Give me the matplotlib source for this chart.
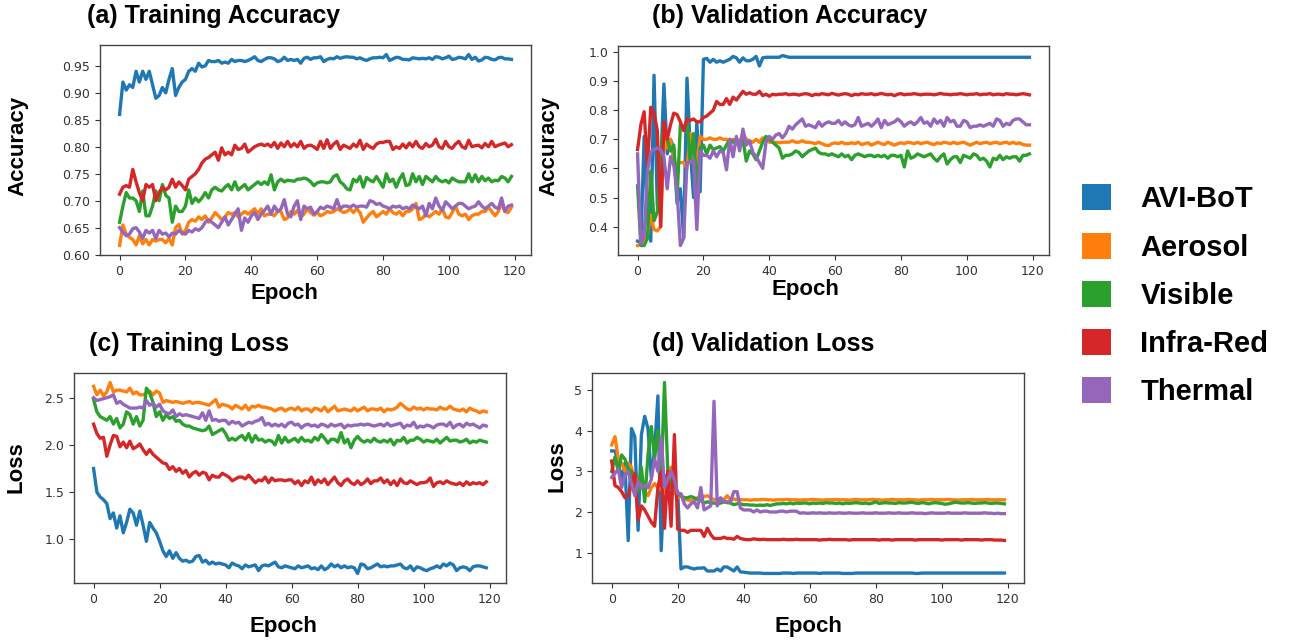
import numpy as np
import matplotlib
matplotlib.use("Agg")
import matplotlib.pyplot as plt
from matplotlib.patches import Patch
from matplotlib.font_manager import FontProperties

epochs = np.arange(120)
models = ["AVI-BoT", "Aerosol", "Visible", "Infra-Red", "Thermal"]
colors = ["#1f77b4", "#ff7f0e", "#2ca02c", "#d62728", "#9467bd"]

# (a) training accuracy
train_acc_avibot = [
    0.860, 0.920, 0.905, 0.915, 0.910, 0.940, 0.920, 0.940, 0.925, 0.940,
    0.915, 0.890, 0.895, 0.910, 0.900, 0.925, 0.945, 0.895, 0.910, 0.920,
    0.925, 0.940, 0.945, 0.940, 0.955, 0.948, 0.950, 0.960, 0.958, 0.958,
    0.960, 0.955, 0.957, 0.955, 0.962, 0.958, 0.960, 0.960, 0.958, 0.960,
    0.963, 0.967, 0.960, 0.958, 0.962, 0.965, 0.965, 0.963, 0.958, 0.960,
    0.966, 0.960, 0.962, 0.960, 0.962, 0.955, 0.964, 0.966, 0.962, 0.965,
    0.965, 0.967, 0.958, 0.962, 0.964, 0.963, 0.967, 0.964, 0.966, 0.967,
    0.966, 0.966, 0.963, 0.965, 0.962, 0.960, 0.963, 0.965, 0.965, 0.966,
    0.965, 0.971, 0.960, 0.963, 0.966, 0.965, 0.962, 0.962, 0.961, 0.965,
    0.964, 0.963, 0.964, 0.963, 0.965, 0.962, 0.967, 0.966, 0.963, 0.965,
    0.968, 0.962, 0.963, 0.966, 0.965, 0.963, 0.971, 0.962, 0.966, 0.959,
    0.961, 0.966, 0.965, 0.962, 0.961, 0.965, 0.966, 0.963, 0.963, 0.962]
train_acc_aerosol = [
    0.617, 0.655, 0.638, 0.632, 0.628, 0.618, 0.635, 0.620, 0.628, 0.618,
    0.628, 0.625, 0.628, 0.628, 0.622, 0.630, 0.618, 0.650, 0.656, 0.638,
    0.645, 0.660, 0.665, 0.662, 0.670, 0.665, 0.672, 0.660, 0.668, 0.678,
    0.672, 0.665, 0.670, 0.678, 0.675, 0.678, 0.670, 0.675, 0.680, 0.675,
    0.680, 0.685, 0.675, 0.685, 0.672, 0.675, 0.675, 0.672, 0.680, 0.680,
    0.665, 0.668, 0.680, 0.675, 0.682, 0.670, 0.675, 0.685, 0.678, 0.673,
    0.678, 0.672, 0.675, 0.680, 0.678, 0.680, 0.685, 0.682, 0.678, 0.680,
    0.685, 0.678, 0.685, 0.678, 0.660, 0.668, 0.675, 0.680, 0.670, 0.675,
    0.680, 0.675, 0.685, 0.678, 0.675, 0.680, 0.672, 0.680, 0.680, 0.685,
    0.695, 0.665, 0.668, 0.675, 0.670, 0.675, 0.680, 0.675, 0.685, 0.670,
    0.668, 0.678, 0.690, 0.675, 0.672, 0.675, 0.665, 0.672, 0.675, 0.675,
    0.680, 0.680, 0.688, 0.680, 0.672, 0.680, 0.695, 0.680, 0.678, 0.688]
train_acc_visible = [
    0.660, 0.690, 0.715, 0.705, 0.705, 0.700, 0.680, 0.718, 0.672, 0.672,
    0.690, 0.718, 0.700, 0.730, 0.710, 0.705, 0.660, 0.690, 0.680, 0.680,
    0.690, 0.720, 0.695, 0.705, 0.698, 0.705, 0.715, 0.705, 0.720, 0.725,
    0.720, 0.718, 0.725, 0.730, 0.720, 0.735, 0.720, 0.725, 0.730, 0.720,
    0.725, 0.730, 0.735, 0.730, 0.735, 0.730, 0.748, 0.720, 0.735, 0.740,
    0.735, 0.738, 0.737, 0.736, 0.740, 0.740, 0.742, 0.740, 0.735, 0.728,
    0.733, 0.735, 0.735, 0.733, 0.735, 0.745, 0.748, 0.735, 0.730, 0.722,
    0.720, 0.740, 0.735, 0.745, 0.725, 0.743, 0.738, 0.735, 0.745, 0.735,
    0.725, 0.750, 0.735, 0.740, 0.725, 0.740, 0.750, 0.728, 0.730, 0.750,
    0.735, 0.745, 0.730, 0.745, 0.740, 0.735, 0.745, 0.738, 0.735, 0.738,
    0.733, 0.742, 0.738, 0.735, 0.735, 0.735, 0.750, 0.735, 0.748, 0.735,
    0.745, 0.737, 0.742, 0.735, 0.738, 0.737, 0.745, 0.742, 0.735, 0.745]
train_acc_infrared = [
    0.712, 0.725, 0.728, 0.725, 0.758, 0.735, 0.715, 0.700, 0.730, 0.725,
    0.730, 0.700, 0.715, 0.725, 0.720, 0.725, 0.740, 0.725, 0.735, 0.728,
    0.720, 0.740, 0.745, 0.750, 0.758, 0.770, 0.777, 0.780, 0.785, 0.790,
    0.775, 0.798, 0.785, 0.790, 0.785, 0.803, 0.795, 0.797, 0.805, 0.790,
    0.795, 0.800, 0.803, 0.805, 0.802, 0.805, 0.800, 0.808, 0.797, 0.807,
    0.800, 0.810, 0.800, 0.806, 0.800, 0.810, 0.797, 0.802, 0.803, 0.800,
    0.795, 0.810, 0.797, 0.813, 0.797, 0.805, 0.810, 0.795, 0.803, 0.800,
    0.797, 0.805, 0.800, 0.812, 0.795, 0.805, 0.800, 0.797, 0.805, 0.808,
    0.808, 0.810, 0.810, 0.795, 0.800, 0.797, 0.805, 0.798, 0.807, 0.800,
    0.810, 0.800, 0.797, 0.806, 0.800, 0.803, 0.814, 0.800, 0.797, 0.810,
    0.800, 0.797, 0.805, 0.810, 0.800, 0.797, 0.812, 0.800, 0.802, 0.803,
    0.798, 0.806, 0.800, 0.810, 0.800, 0.803, 0.805, 0.807, 0.800, 0.804]
train_acc_thermal = [
    0.650, 0.642, 0.635, 0.638, 0.648, 0.650, 0.642, 0.630, 0.645, 0.640,
    0.645, 0.630, 0.645, 0.638, 0.640, 0.633, 0.640, 0.638, 0.645, 0.640,
    0.638, 0.645, 0.642, 0.648, 0.645, 0.650, 0.660, 0.665, 0.660, 0.655,
    0.650, 0.660, 0.670, 0.655, 0.665, 0.675, 0.685, 0.645, 0.668, 0.660,
    0.672, 0.678, 0.665, 0.675, 0.682, 0.690, 0.675, 0.690, 0.680, 0.685,
    0.702, 0.675, 0.670, 0.690, 0.700, 0.665, 0.690, 0.685, 0.688, 0.675,
    0.680, 0.688, 0.685, 0.690, 0.688, 0.685, 0.702, 0.685, 0.690, 0.690,
    0.688, 0.692, 0.688, 0.690, 0.690, 0.688, 0.700, 0.698, 0.693, 0.695,
    0.690, 0.688, 0.685, 0.690, 0.688, 0.690, 0.685, 0.688, 0.685, 0.692,
    0.688, 0.685, 0.690, 0.672, 0.695, 0.685, 0.705, 0.690, 0.682, 0.698,
    0.692, 0.685, 0.690, 0.695, 0.695, 0.690, 0.685, 0.688, 0.690, 0.698,
    0.690, 0.685, 0.690, 0.695, 0.688, 0.685, 0.705, 0.680, 0.690, 0.692]

# (b) validation accuracy
val_acc_avibot = [
    0.350, 0.345, 0.710, 0.420, 0.350, 0.920, 0.470, 0.600, 0.890, 0.650,
    0.700, 0.670, 0.480, 0.530, 0.360, 0.910, 0.670, 0.500, 0.760, 0.520,
    0.975, 0.978, 0.965, 0.975, 0.965, 0.970, 0.965, 0.970, 0.975, 0.985,
    0.980, 0.965, 0.980, 0.970, 0.970, 0.975, 0.985, 0.952, 0.980, 0.982,
    0.982, 0.982, 0.982, 0.982, 0.988, 0.985, 0.982, 0.982, 0.982, 0.982,
    0.982, 0.982, 0.982, 0.982, 0.982, 0.982, 0.982, 0.982, 0.982, 0.982,
    0.982, 0.982, 0.982, 0.982, 0.982, 0.982, 0.982, 0.982, 0.982, 0.982,
    0.982, 0.982, 0.982, 0.982, 0.982, 0.982, 0.982, 0.982, 0.982, 0.982,
    0.982, 0.982, 0.982, 0.982, 0.982, 0.982, 0.982, 0.982, 0.982, 0.982,
    0.982, 0.982, 0.982, 0.982, 0.982, 0.982, 0.982, 0.982, 0.982, 0.982,
    0.982, 0.982, 0.982, 0.982, 0.982, 0.982, 0.982, 0.982, 0.982, 0.982,
    0.982, 0.982, 0.982, 0.982, 0.982, 0.982, 0.982, 0.982, 0.982, 0.982]
val_acc_aerosol = [
    0.335, 0.340, 0.360, 0.370, 0.440, 0.390, 0.385, 0.400, 0.710, 0.670,
    0.700, 0.620, 0.615, 0.620, 0.620, 0.600, 0.720, 0.670, 0.620, 0.710,
    0.700, 0.700, 0.705, 0.700, 0.700, 0.705, 0.700, 0.700, 0.690, 0.700,
    0.690, 0.690, 0.720, 0.700, 0.695, 0.690, 0.700, 0.690, 0.705, 0.700,
    0.690, 0.690, 0.690, 0.688, 0.690, 0.690, 0.690, 0.695, 0.690, 0.690,
    0.695, 0.690, 0.690, 0.688, 0.685, 0.690, 0.685, 0.680, 0.678, 0.685,
    0.688, 0.685, 0.690, 0.685, 0.685, 0.688, 0.685, 0.690, 0.682, 0.685,
    0.688, 0.680, 0.685, 0.690, 0.685, 0.682, 0.690, 0.685, 0.680, 0.685,
    0.688, 0.685, 0.690, 0.688, 0.685, 0.690, 0.685, 0.688, 0.690, 0.685,
    0.682, 0.688, 0.685, 0.690, 0.688, 0.685, 0.690, 0.685, 0.688, 0.690,
    0.685, 0.680, 0.685, 0.690, 0.685, 0.688, 0.690, 0.685, 0.688, 0.690,
    0.685, 0.688, 0.690, 0.685, 0.690, 0.685, 0.688, 0.682, 0.680, 0.680]
val_acc_visible = [
    0.540, 0.335, 0.335, 0.360, 0.590, 0.420, 0.450, 0.650, 0.750, 0.700,
    0.660, 0.680, 0.500, 0.750, 0.740, 0.760, 0.620, 0.720, 0.520, 0.670,
    0.680, 0.650, 0.680, 0.665, 0.670, 0.675, 0.660, 0.680, 0.700, 0.690,
    0.700, 0.690, 0.700, 0.625, 0.660, 0.650, 0.630, 0.660, 0.690, 0.710,
    0.700, 0.690, 0.680, 0.670, 0.635, 0.645, 0.645, 0.650, 0.660, 0.655,
    0.640, 0.650, 0.660, 0.665, 0.670, 0.655, 0.650, 0.650, 0.645, 0.650,
    0.645, 0.640, 0.650, 0.640, 0.645, 0.630, 0.645, 0.650, 0.645, 0.640,
    0.645, 0.645, 0.640, 0.645, 0.640, 0.645, 0.635, 0.645, 0.645, 0.640,
    0.645, 0.605, 0.660, 0.635, 0.640, 0.650, 0.645, 0.640, 0.645, 0.650,
    0.635, 0.625, 0.640, 0.650, 0.615, 0.630, 0.640, 0.640, 0.620, 0.645,
    0.640, 0.635, 0.650, 0.645, 0.630, 0.635, 0.625, 0.605, 0.635, 0.630,
    0.645, 0.630, 0.640, 0.635, 0.640, 0.640, 0.625, 0.645, 0.645, 0.650]
val_acc_infrared = [
    0.665, 0.750, 0.795, 0.600, 0.810, 0.790, 0.730, 0.400, 0.760, 0.700,
    0.750, 0.790, 0.785, 0.760, 0.730, 0.770, 0.765, 0.770, 0.760, 0.760,
    0.775, 0.780, 0.790, 0.800, 0.830, 0.820, 0.820, 0.840, 0.820, 0.845,
    0.835, 0.850, 0.865, 0.855, 0.860, 0.855, 0.855, 0.865, 0.850, 0.855,
    0.848, 0.855, 0.853, 0.855, 0.855, 0.857, 0.853, 0.855, 0.855, 0.852,
    0.855, 0.857, 0.855, 0.850, 0.855, 0.853, 0.857, 0.855, 0.853, 0.858,
    0.855, 0.852, 0.855, 0.857, 0.855, 0.850, 0.855, 0.853, 0.857, 0.855,
    0.855, 0.857, 0.853, 0.855, 0.858, 0.855, 0.853, 0.855, 0.850, 0.855,
    0.857, 0.853, 0.855, 0.855, 0.857, 0.855, 0.853, 0.855, 0.855, 0.855,
    0.853, 0.855, 0.858, 0.855, 0.855, 0.853, 0.855, 0.855, 0.857, 0.855,
    0.853, 0.855, 0.855, 0.857, 0.853, 0.855, 0.855, 0.857, 0.853, 0.855,
    0.855, 0.853, 0.857, 0.855, 0.855, 0.853, 0.855, 0.857, 0.855, 0.853]
val_acc_thermal = [
    0.650, 0.340, 0.370, 0.590, 0.655, 0.665, 0.670, 0.665, 0.640, 0.530,
    0.640, 0.610, 0.520, 0.335, 0.360, 0.620, 0.620, 0.630, 0.390, 0.660,
    0.645, 0.645, 0.635, 0.660, 0.640, 0.660, 0.655, 0.595, 0.700, 0.640,
    0.710, 0.660, 0.735, 0.680, 0.695, 0.655, 0.640, 0.620, 0.600, 0.690,
    0.710, 0.700, 0.715, 0.720, 0.705, 0.720, 0.745, 0.735, 0.750, 0.760,
    0.770, 0.745, 0.750, 0.745, 0.740, 0.760, 0.745, 0.755, 0.760, 0.755,
    0.755, 0.765, 0.750, 0.760, 0.750, 0.745, 0.750, 0.775, 0.745, 0.750,
    0.755, 0.745, 0.755, 0.770, 0.740, 0.765, 0.750, 0.755, 0.760, 0.770,
    0.760, 0.745, 0.755, 0.760, 0.750, 0.760, 0.775, 0.755, 0.760, 0.745,
    0.770, 0.755, 0.765, 0.745, 0.775, 0.760, 0.765, 0.745, 0.745, 0.765,
    0.760, 0.740, 0.745, 0.745, 0.750, 0.745, 0.750, 0.755, 0.745, 0.770,
    0.765, 0.745, 0.755, 0.750, 0.765, 0.770, 0.770, 0.760, 0.750, 0.750]

# (c) training loss
train_loss_avibot = [
    1.75, 1.50, 1.45, 1.42, 1.38, 1.22, 1.28, 1.12, 1.25, 1.07,
    1.18, 1.32, 1.28, 1.15, 1.30, 1.15, 0.98, 1.18, 1.12, 1.07,
    0.98, 0.88, 0.82, 0.88, 0.80, 0.86, 0.80, 0.77, 0.78, 0.76,
    0.77, 0.82, 0.83, 0.76, 0.78, 0.74, 0.76, 0.74, 0.75, 0.74,
    0.73, 0.70, 0.75, 0.73, 0.72, 0.69, 0.73, 0.71, 0.72, 0.73,
    0.67, 0.72, 0.73, 0.72, 0.74, 0.76, 0.71, 0.70, 0.72, 0.71,
    0.70, 0.69, 0.72, 0.70, 0.71, 0.72, 0.69, 0.70, 0.68, 0.72,
    0.68, 0.70, 0.74, 0.71, 0.73, 0.70, 0.72, 0.70, 0.71, 0.70,
    0.64, 0.74, 0.73, 0.69, 0.70, 0.72, 0.74, 0.71, 0.72, 0.71,
    0.72, 0.72, 0.73, 0.74, 0.70, 0.69, 0.72, 0.67, 0.71, 0.70,
    0.68, 0.67, 0.69, 0.70, 0.72, 0.70, 0.74, 0.72, 0.75, 0.73,
    0.67, 0.70, 0.71, 0.70, 0.67, 0.71, 0.72, 0.72, 0.71, 0.70]
train_loss_aerosol = [
    2.62, 2.53, 2.58, 2.52, 2.56, 2.66, 2.56, 2.58, 2.58, 2.57,
    2.56, 2.60, 2.54, 2.56, 2.53, 2.53, 2.55, 2.57, 2.53, 2.57,
    2.55, 2.45, 2.47, 2.46, 2.45, 2.46, 2.45, 2.44, 2.45, 2.46,
    2.44, 2.45, 2.45, 2.44, 2.43, 2.42, 2.45, 2.48, 2.40, 2.43,
    2.42, 2.41, 2.38, 2.42, 2.40, 2.38, 2.42, 2.37, 2.41, 2.40,
    2.42, 2.40, 2.40, 2.39, 2.38, 2.36, 2.38, 2.39, 2.36, 2.38,
    2.39, 2.37, 2.40, 2.36, 2.38, 2.38, 2.35, 2.39, 2.38, 2.36,
    2.40, 2.35, 2.38, 2.41, 2.36, 2.37, 2.38, 2.37, 2.36, 2.39,
    2.36, 2.38, 2.40, 2.36, 2.38, 2.38, 2.37, 2.39, 2.35, 2.38,
    2.37, 2.38, 2.40, 2.44, 2.41, 2.38, 2.37, 2.40, 2.38, 2.39,
    2.37, 2.39, 2.38, 2.38, 2.37, 2.40, 2.38, 2.38, 2.41, 2.38,
    2.37, 2.36, 2.38, 2.35, 2.39, 2.37, 2.36, 2.34, 2.36, 2.35]
train_loss_visible = [
    2.48, 2.35, 2.30, 2.28, 2.26, 2.30, 2.22, 2.28, 2.18, 2.22,
    2.35, 2.32, 2.22, 2.30, 2.20, 2.26, 2.60, 2.55, 2.45, 2.30,
    2.35, 2.26, 2.32, 2.28, 2.30, 2.25, 2.26, 2.22, 2.20, 2.20,
    2.18, 2.17, 2.16, 2.15, 2.16, 2.20, 2.11, 2.13, 2.15, 2.17,
    2.12, 2.05, 2.07, 2.05, 2.08, 2.10, 2.05, 2.12, 2.03, 2.10,
    2.05, 2.06, 2.03, 2.05, 2.04, 2.00, 2.10, 2.02, 2.08, 2.03,
    2.05, 2.07, 2.03, 2.08, 2.04, 2.05, 2.03, 2.08, 2.05, 2.11,
    2.07, 2.02, 2.06, 2.06, 2.03, 2.13, 2.02, 2.06, 1.97, 2.05,
    2.09, 2.05, 2.03, 2.05, 2.03, 2.07, 2.04, 2.03, 2.05, 2.03,
    2.06, 2.00, 2.05, 2.04, 2.08, 2.02, 2.05, 2.05, 2.08, 2.06,
    2.03, 2.05, 2.04, 2.03, 2.06, 2.02, 2.05, 2.08, 2.04, 2.05,
    2.05, 2.03, 2.04, 2.06, 2.02, 2.04, 2.03, 2.05, 2.04, 2.03]
train_loss_infrared = [
    2.22, 2.12, 2.07, 2.08, 1.88, 2.00, 2.10, 2.09, 1.98, 2.03,
    1.97, 2.04, 1.96, 1.98, 2.01, 1.95, 1.90, 1.95, 1.90, 1.87,
    1.84, 1.81, 1.80, 1.74, 1.77, 1.72, 1.75, 1.70, 1.73, 1.66,
    1.70, 1.72, 1.68, 1.71, 1.70, 1.63, 1.68, 1.66, 1.66, 1.70,
    1.68, 1.66, 1.62, 1.64, 1.66, 1.66, 1.64, 1.68, 1.64, 1.60,
    1.63, 1.62, 1.66, 1.60, 1.65, 1.62, 1.63, 1.63, 1.62, 1.63,
    1.63, 1.59, 1.62, 1.57, 1.62, 1.60, 1.66, 1.58, 1.63, 1.60,
    1.64, 1.58, 1.62, 1.66, 1.60, 1.57, 1.62, 1.64, 1.60, 1.58,
    1.62, 1.58, 1.60, 1.64, 1.59, 1.62, 1.62, 1.65, 1.60, 1.63,
    1.58, 1.62, 1.57, 1.64, 1.60, 1.59, 1.62, 1.60, 1.58, 1.60,
    1.60, 1.61, 1.65, 1.56, 1.60, 1.61, 1.59, 1.62, 1.60, 1.59,
    1.58, 1.60, 1.57, 1.61, 1.58, 1.60, 1.59, 1.60, 1.58, 1.61]
train_loss_thermal = [
    2.50, 2.47, 2.48, 2.49, 2.50, 2.51, 2.53, 2.44, 2.46, 2.43,
    2.41, 2.39, 2.39, 2.39, 2.40, 2.39, 2.47, 2.42, 2.44, 2.40,
    2.43, 2.36, 2.34, 2.33, 2.37, 2.30, 2.33, 2.31, 2.32, 2.31,
    2.30, 2.29, 2.28, 2.34, 2.26, 2.36, 2.26, 2.27, 2.25, 2.26,
    2.26, 2.22, 2.25, 2.23, 2.24, 2.20, 2.22, 2.24, 2.23, 2.25,
    2.26, 2.29, 2.21, 2.23, 2.20, 2.22, 2.20, 2.22, 2.19, 2.23,
    2.24, 2.21, 2.22, 2.18, 2.21, 2.22, 2.20, 2.21, 2.19, 2.22,
    2.21, 2.19, 2.22, 2.20, 2.21, 2.22, 2.18, 2.21, 2.20, 2.21,
    2.21, 2.22, 2.21, 2.22, 2.21, 2.20, 2.21, 2.22, 2.20, 2.23,
    2.20, 2.21, 2.22, 2.23, 2.18, 2.21, 2.20, 2.24, 2.18, 2.20,
    2.19, 2.21, 2.20, 2.18, 2.21, 2.22, 2.22, 2.20, 2.24, 2.18,
    2.21, 2.22, 2.19, 2.23, 2.21, 2.22, 2.20, 2.18, 2.21, 2.20]

# (d) validation loss
val_loss_avibot = [
    3.50, 3.50, 3.20, 2.80, 3.20, 1.30, 4.05, 3.85, 1.55, 3.90,
    4.35, 4.05, 2.85, 3.50, 4.85, 1.05, 2.90, 2.60, 2.70, 2.55,
    2.50, 0.60, 0.65, 0.65, 0.62, 0.60, 0.62, 0.62, 0.63, 0.55,
    0.55, 0.55, 0.60, 0.55, 0.65, 0.65, 0.60, 0.55, 0.65, 0.53,
    0.52, 0.51, 0.50, 0.50, 0.50, 0.50, 0.49, 0.49, 0.49, 0.49,
    0.49, 0.49, 0.50, 0.50, 0.50, 0.49, 0.50, 0.50, 0.50, 0.50,
    0.50, 0.50, 0.50, 0.49, 0.50, 0.50, 0.50, 0.50, 0.50, 0.50,
    0.49, 0.49, 0.49, 0.49, 0.50, 0.50, 0.50, 0.50, 0.50, 0.50,
    0.50, 0.50, 0.50, 0.50, 0.50, 0.50, 0.50, 0.50, 0.50, 0.50,
    0.50, 0.50, 0.49, 0.49, 0.50, 0.50, 0.50, 0.50, 0.50, 0.50,
    0.50, 0.50, 0.50, 0.50, 0.50, 0.50, 0.50, 0.50, 0.50, 0.50,
    0.50, 0.50, 0.50, 0.50, 0.50, 0.50, 0.50, 0.50, 0.50, 0.50]
val_loss_aerosol = [
    3.65, 3.85, 3.30, 3.20, 3.00, 3.20, 3.10, 2.70, 2.80, 2.60,
    2.50, 2.40, 2.60, 2.70, 2.60, 2.55, 2.45, 2.90, 3.10, 2.50,
    2.35, 2.40, 2.30, 2.30, 2.28, 2.30, 2.35, 2.35, 2.38, 2.40,
    2.35, 2.30, 2.32, 2.32, 2.30, 2.40, 2.30, 2.32, 2.30, 2.30,
    2.30, 2.30, 2.29, 2.30, 2.30, 2.30, 2.31, 2.30, 2.30, 2.29,
    2.30, 2.30, 2.30, 2.31, 2.30, 2.30, 2.30, 2.29, 2.30, 2.30,
    2.30, 2.31, 2.30, 2.30, 2.29, 2.30, 2.30, 2.30, 2.31, 2.30,
    2.30, 2.30, 2.29, 2.30, 2.31, 2.30, 2.30, 2.30, 2.30, 2.31,
    2.30, 2.30, 2.29, 2.30, 2.30, 2.31, 2.30, 2.30, 2.30, 2.30,
    2.31, 2.30, 2.30, 2.29, 2.30, 2.30, 2.30, 2.31, 2.30, 2.30,
    2.30, 2.30, 2.31, 2.30, 2.30, 2.29, 2.30, 2.30, 2.30, 2.31,
    2.30, 2.30, 2.30, 2.30, 2.31, 2.30, 2.30, 2.30, 2.30, 2.30]
val_loss_visible = [
    3.00, 3.35, 3.00, 3.40, 3.30, 3.05, 3.00, 2.60, 2.50, 3.10,
    2.25, 3.40, 4.10, 3.30, 4.00, 2.80, 5.18, 3.00, 2.60, 2.70,
    2.45, 2.40, 2.35, 2.35, 2.38, 2.35, 2.30, 2.28, 2.22, 2.25,
    2.22, 2.22, 2.20, 2.22, 2.25, 2.23, 2.22, 2.18, 2.20, 2.20,
    2.18, 2.18, 2.17, 2.17, 2.16, 2.17, 2.16, 2.18, 2.16, 2.18,
    2.20, 2.20, 2.21, 2.20, 2.22, 2.20, 2.22, 2.21, 2.22, 2.22,
    2.20, 2.22, 2.21, 2.22, 2.21, 2.23, 2.22, 2.22, 2.21, 2.22,
    2.20, 2.22, 2.21, 2.22, 2.23, 2.22, 2.21, 2.22, 2.20, 2.22,
    2.25, 2.21, 2.22, 2.23, 2.22, 2.22, 2.21, 2.23, 2.22, 2.22,
    2.23, 2.24, 2.22, 2.21, 2.23, 2.22, 2.20, 2.22, 2.23, 2.22,
    2.21, 2.19, 2.20, 2.22, 2.24, 2.23, 2.22, 2.22, 2.23, 2.22,
    2.21, 2.22, 2.22, 2.23, 2.22, 2.21, 2.22, 2.22, 2.21, 2.20]
val_loss_infrared = [
    3.25, 2.65, 2.60, 2.50, 2.35, 2.40, 2.70, 2.95, 1.80, 2.15,
    2.05, 1.90, 1.75, 1.65, 2.60, 3.00, 1.60, 3.00, 1.65, 3.90,
    1.58, 1.55, 1.55, 1.50, 1.55, 1.55, 1.55, 1.55, 1.40, 1.60,
    1.45, 1.35, 1.35, 1.35, 1.38, 1.35, 1.35, 1.33, 1.40, 1.35,
    1.33, 1.32, 1.32, 1.34, 1.33, 1.32, 1.33, 1.32, 1.32, 1.32,
    1.32, 1.32, 1.33, 1.32, 1.32, 1.32, 1.33, 1.32, 1.32, 1.32,
    1.32, 1.32, 1.32, 1.31, 1.32, 1.32, 1.33, 1.32, 1.32, 1.32,
    1.32, 1.32, 1.31, 1.32, 1.32, 1.32, 1.32, 1.32, 1.32, 1.32,
    1.32, 1.31, 1.32, 1.32, 1.32, 1.31, 1.32, 1.32, 1.32, 1.32,
    1.32, 1.32, 1.31, 1.32, 1.32, 1.32, 1.32, 1.32, 1.32, 1.32,
    1.31, 1.32, 1.32, 1.32, 1.32, 1.32, 1.31, 1.32, 1.32, 1.32,
    1.32, 1.32, 1.31, 1.32, 1.32, 1.32, 1.31, 1.31, 1.31, 1.30]
val_loss_thermal = [
    2.85, 2.95, 3.05, 2.60, 2.90, 3.00, 2.70, 2.40, 2.75, 2.60,
    2.65, 2.60, 2.80, 3.30, 3.00, 3.85, 2.60, 2.80, 3.00, 2.80,
    2.45, 2.45, 2.20, 2.10, 2.20, 2.25, 2.10, 2.60, 2.05, 2.10,
    2.15, 4.72, 2.15, 2.35, 2.25, 2.25, 2.25, 2.50, 2.50, 2.10,
    2.05, 2.05, 2.05, 2.00, 2.05, 2.00, 2.02, 2.02, 2.00, 2.00,
    2.00, 2.02, 2.02, 2.00, 2.02, 2.02, 2.02, 1.97, 1.98, 1.97,
    1.97, 1.98, 1.97, 1.98, 1.97, 1.97, 1.98, 1.97, 1.97, 1.98,
    1.97, 1.97, 1.98, 1.97, 1.97, 1.97, 1.98, 1.97, 1.97, 1.97,
    1.98, 1.97, 1.97, 1.97, 1.98, 1.97, 1.97, 1.98, 1.97, 1.97,
    1.97, 1.98, 1.97, 1.97, 1.97, 1.96, 1.97, 1.98, 1.97, 1.97,
    1.97, 1.97, 1.98, 1.97, 1.97, 1.97, 1.97, 1.98, 1.97, 1.97,
    1.97, 1.97, 1.97, 1.98, 1.97, 1.97, 1.96, 1.97, 1.96, 1.96]

bold = dict(family="Liberation Sans", weight="bold")

# rect, title, title pos, y label, y label coords, x label coords, series
panels = [
    ([0.0764, 0.6028, 0.3293, 0.3271], "(a) Training Accuracy", (0.163, 0.975), "Accuracy",
     (-0.167, 0.52), (0.427, -0.133),
     [train_acc_avibot, train_acc_aerosol, train_acc_visible, train_acc_infrared, train_acc_thermal]),
    ([0.4721, 0.6028, 0.3293, 0.3255], "(b) Validation Accuracy", (0.603, 0.975), "Accuracy",
     (-0.135, 0.52), (0.436, -0.115),
     [val_acc_avibot, val_acc_aerosol, val_acc_visible, val_acc_infrared, val_acc_thermal]),
    ([0.0565, 0.0919, 0.3300, 0.3271], "(c) Training Loss", (0.1445, 0.464), "Loss",
     (-0.109, 0.552), (0.486, -0.157),
     [train_loss_avibot, train_loss_aerosol, train_loss_visible, train_loss_infrared, train_loss_thermal]),
    ([0.4523, 0.0919, 0.3300, 0.3271], "(d) Validation Loss", (0.583, 0.464), "Loss",
     (-0.058, 0.557), (0.500, -0.157),
     [val_loss_avibot, val_loss_aerosol, val_loss_visible, val_loss_infrared, val_loss_thermal]),
]

fig = plt.figure(figsize=(13.09, 6.42), dpi=100)

for rect, title, title_xy, ylab, ylab_xy, xlab_xy, series in panels:
    ax = fig.add_axes(rect)
    for values, color, name in zip(series, colors, models):
        ax.plot(epochs, values, color=color, linewidth=2.4, label=name)
    ax.set_xticks([0, 20, 40, 60, 80, 100, 120])
    ax.tick_params(labelsize=9, colors="#333333", length=3.5)
    for spine in ax.spines.values():
        spine.set_color("#444444")
        spine.set_linewidth(1.0)
    ax.set_ylabel(ylab, fontsize=16, **bold)
    ax.yaxis.set_label_coords(*ylab_xy)
    ax.set_xlabel("Epoch", fontsize=16, **bold)
    ax.xaxis.set_label_coords(*xlab_xy)
    fig.text(title_xy[0], title_xy[1], title, ha="center", va="center", fontsize=18, **bold)

handles = [Patch(facecolor=c, edgecolor="none", label=m) for c, m in zip(colors, models)]
fig.legend(handles=handles, loc="center left", bbox_to_anchor=(0.8266, 0.540),
           frameon=False, prop=FontProperties(family="Liberation Sans", weight="bold", size=21),
           handlelength=1.0, handleheight=1.0, handletextpad=1.0, labelspacing=0.66,
           borderpad=0, borderaxespad=0)

fig.savefig("out.png", dpi=100)
